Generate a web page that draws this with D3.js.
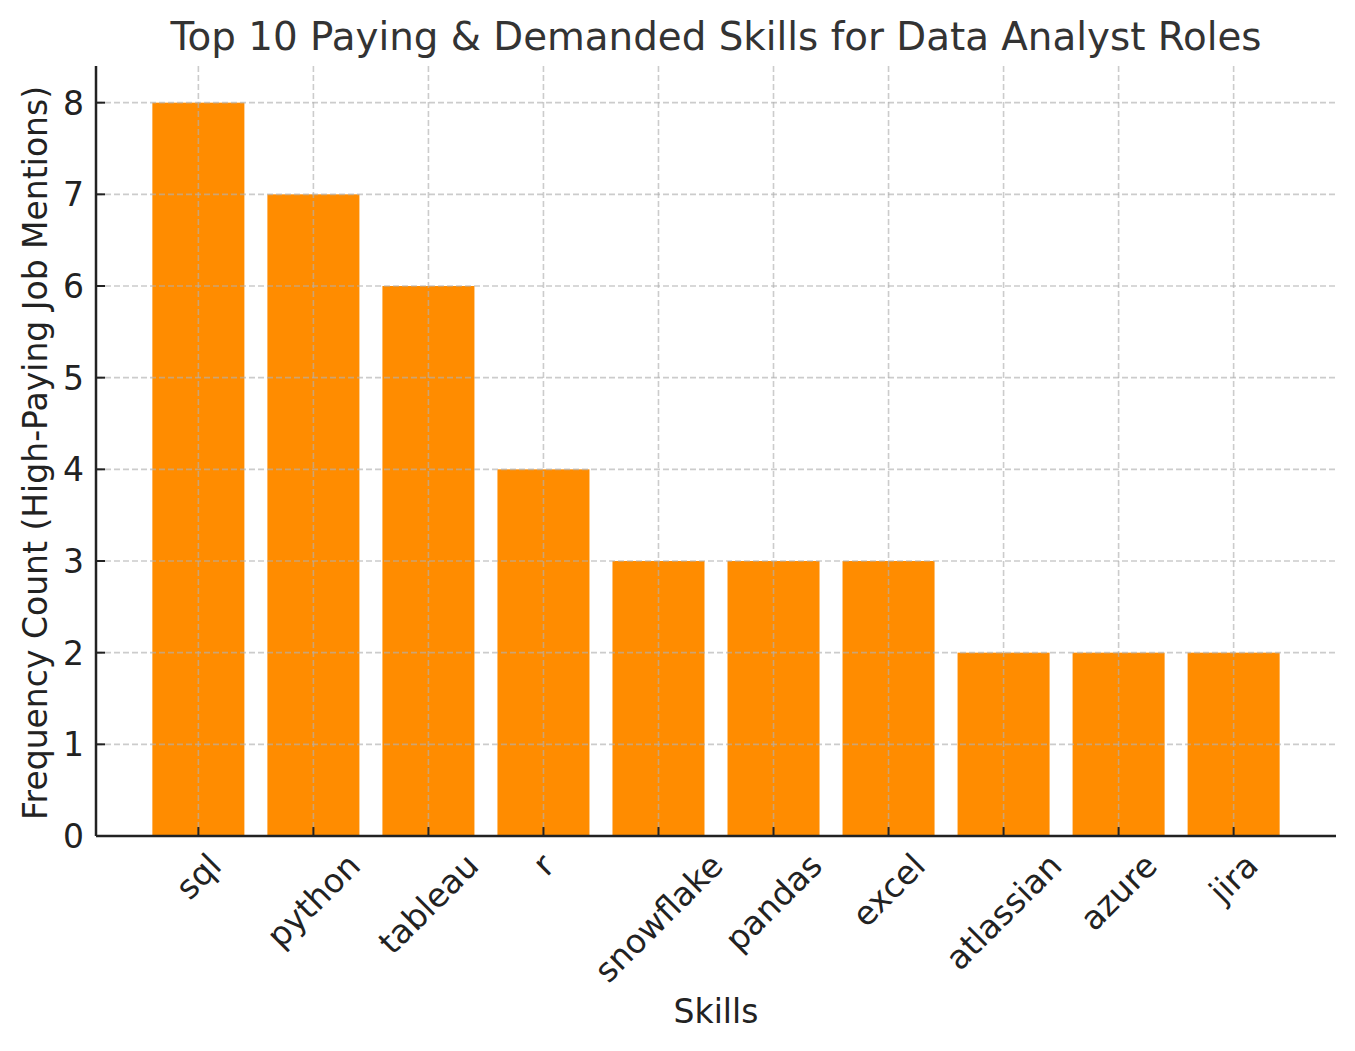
<!DOCTYPE html>
<html>
<head>
<meta charset="utf-8">
<script src="https://cdn.jsdelivr.net/npm/d3@7"></script>
<style>
  body { margin: 0; background: #fff; }
  text { font-family: "DejaVu Sans", sans-serif; }
</style>
</head>
<body>
<svg id="chart" width="1355" height="1051"></svg>
<script>
var skills = ["sql", "python", "tableau", "r", "snowflake", "pandas", "excel", "atlassian", "azure", "jira"];
var counts = [8, 7, 6, 4, 3, 3, 3, 2, 2, 2];
var yTicks = [0, 1, 2, 3, 4, 5, 6, 7, 8];

var W = 1355, H = 1051;
var m = {left: 96, right: 19, top: 66, bottom: 215};
var iw = W - m.left - m.right, ih = H - m.top - m.bottom;

var data = skills.map(function(s, i) { return {name: s, value: counts[i]}; });

var svg = d3.select("#chart");
var g = svg.append("g").attr("transform", "translate(" + m.left + "," + m.top + ")");

// matplotlib style: bar width 0.8, 5% margins
var x = d3.scaleLinear().domain([-0.89, skills.length - 1 + 0.89]).range([0, iw]);
var y = d3.scaleLinear().domain([0, 8.4]).range([ih, 0]);
var bw = x(0.8) - x(0);

g.selectAll("rect.bar")
    .data(data)
    .enter().append("rect")
    .attr("class", "bar")
    .attr("x", function(d, i) { return x(i - 0.4); })
    .attr("width", bw)
    .attr("y", function(d) { return y(d.value); })
    .attr("height", function(d) { return y(0) - y(d.value); })
    .attr("fill", "#ff8c00");

// grid (drawn over bars)
var grid = g.append("g").attr("stroke", "#b0b0b0").attr("stroke-opacity", 0.65)
    .attr("stroke-width", 1.6).attr("stroke-dasharray", "6,3");
grid.selectAll("line.gy").data(yTicks).enter().append("line")
    .attr("x1", 0).attr("x2", iw)
    .attr("y1", function(d) { return y(d); }).attr("y2", function(d) { return y(d); });
grid.selectAll("line.gx").data(skills).enter().append("line")
    .attr("y1", 0).attr("y2", ih)
    .attr("x1", function(d, i) { return x(i); }).attr("x2", function(d, i) { return x(i); });

// ticks (inward)
var ticks = g.append("g").attr("stroke", "#222").attr("stroke-width", 2);
ticks.selectAll("line.ty").data(yTicks).enter().append("line")
    .attr("x1", 0).attr("x2", 9)
    .attr("y1", function(d) { return y(d); }).attr("y2", function(d) { return y(d); });
ticks.selectAll("line.tx").data(skills).enter().append("line")
    .attr("y1", ih).attr("y2", ih - 9)
    .attr("x1", function(d, i) { return x(i); }).attr("x2", function(d, i) { return x(i); });

// spines
g.append("line").attr("x1", 0).attr("x2", 0).attr("y1", 0).attr("y2", ih)
    .attr("stroke", "#222").attr("stroke-width", 2.5);
g.append("line").attr("x1", 0).attr("x2", iw).attr("y1", ih).attr("y2", ih)
    .attr("stroke", "#222").attr("stroke-width", 2.5);

var fs = 33;

// y tick labels
g.selectAll("text.yl").data(yTicks).enter().append("text")
    .attr("x", -12).attr("y", function(d) { return y(d); })
    .attr("dy", "0.36em").attr("text-anchor", "end")
    .attr("font-size", fs).attr("fill", "#222")
    .text(function(d) { return d; });

// x tick labels, rotated 45deg, centered like matplotlib ha='center'
g.selectAll("text.xl").data(skills).enter().append("text")
    .attr("class", "xl")
    .attr("text-anchor", "middle")
    .attr("dominant-baseline", "central")
    .attr("font-size", fs).attr("fill", "#222")
    .text(function(d) { return d; })
    .each(function(d, i) {
        var w = this.getComputedTextLength();
        var h = fs * 1.0;
        var half = (w + h) * Math.SQRT1_2 / 2;
        var cx = x(i), cy = ih + 12 + half;
        d3.select(this).attr("x", cx).attr("y", cy)
            .attr("transform", "rotate(-45," + cx + "," + cy + ")");
    });

// axis titles
g.append("text").attr("x", iw / 2).attr("y", H - m.top - 28)
    .attr("text-anchor", "middle").attr("font-size", fs).attr("fill", "#222")
    .text("Skills");
g.append("text").attr("transform", "translate(" + (-49) + "," + (ih / 2 + 2) + ") rotate(-90)")
    .attr("text-anchor", "middle").attr("font-size", fs).attr("fill", "#222")
    .text("Frequency Count (High-Paying Job Mentions)");

// title
svg.append("text").attr("x", m.left + iw / 2).attr("y", 50)
    .attr("text-anchor", "middle").attr("font-size", 38.8).attr("fill", "#333")
    .text("Top 10 Paying & Demanded Skills for Data Analyst Roles");
</script>
</body>
</html>
